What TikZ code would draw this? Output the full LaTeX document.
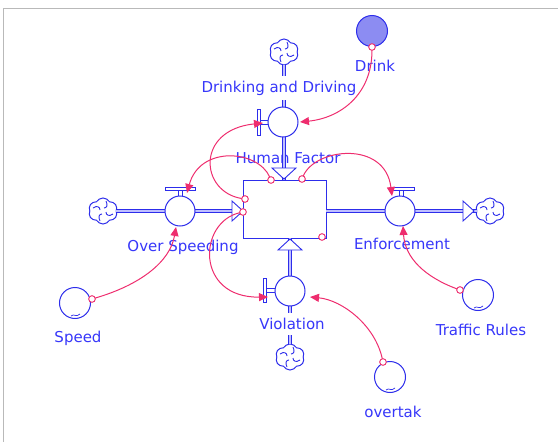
\documentclass[tikz,border=0pt]{standalone}
\usepackage{fontspec}
\setmainfont{DejaVu Sans}
\usetikzlibrary{shapes.symbols,arrows.meta}
\definecolor{sblue}{RGB}{45,45,235}
\definecolor{tblue}{RGB}{55,55,250}
\definecolor{cred}{RGB}{238,45,110}
\definecolor{dfill}{RGB}{140,140,242}
\begin{document}
\begin{tikzpicture}[x=1pt,y=-1pt,
  every node/.style={inner sep=0pt, outer sep=0pt},
  lbl/.style={text=tblue, font=\fontsize{15}{17}\selectfont, fill=white, inner xsep=1pt, inner ysep=5pt},
  lblclear/.style={text=tblue, font=\fontsize{15}{17}\selectfont},
  valve/.style={circle, draw=sblue, fill=white, line width=1pt, minimum size=30pt},
  aux/.style={circle, draw=sblue, fill=white, line width=1pt, minimum size=31pt},
  stockbox/.style={rectangle, draw=sblue, fill=white, line width=1pt, minimum width=83pt, minimum height=58pt},
  cloudnode/.style={cloud, cloud puffs=6, cloud puff arc=120, aspect=1.15, draw=sblue, fill=white, line width=1pt, minimum width=29pt, minimum height=26pt},
  pipe/.style={draw=sblue, line width=0.9pt, double=blue!25, double distance=2.2pt},
  hollow/.style={draw=sblue, fill=white, line width=0.9pt, line join=miter},
  handle/.style={draw=sblue, fill=white, line width=0.9pt},
  port/.style={circle, draw=cred, fill=white, line width=0.8pt, minimum size=6.5pt},
  link/.style={draw=cred, line width=1pt, -{Triangle[length=9pt,width=8pt]}},
  curl/.style={draw=sblue, line width=0.9pt},
  cloudpic/.pic={
    \draw[curl] (-10,-3) .. controls (-6,-6) and (-3,-4) .. (-3,-1);
    \draw[curl] (3,-10) .. controls (5,-6) and (4,-3) .. (1,-3);
    \draw[curl] (10,3) .. controls (6,6) and (3,4) .. (3,1);
    \draw[curl] (-3,10) .. controls (-5,6) and (-4,3) .. (-1,3);
  },
  squig/.pic={
    \draw[curl, line width=0.7pt] (-4,13) .. controls (-1,10) and (1,15) .. (5,11);
  }
]
\useasboundingbox (0,0) rectangle (558,442);
% frame
\draw[gray!55, line width=0.8pt] (3.5,442) -- (3.5,8) -- (558,8);

% Human Factor label (pipe passes over it)
\node[lblclear] (lhf) at (288,158) {Human Factor};

% clouds
\node[cloudnode] (cl) at (103,211) {};
\node[cloudnode] (cr) at (490,211) {};
\node[cloudnode] (ct) at (284,52) {};
\node[cloudnode] (cb) at (290,357) {};
\pic at (cl) {cloudpic};
\pic at (cr) {cloudpic};
\pic at (ct) {cloudpic};
\pic at (cb) {cloudpic};

% stock
\node[stockbox] (hf) at (284.5,209) {};

% pipes
\draw[pipe] (cl.east) -- (hf.west |- cl.east);
\draw[pipe] (hf.east |- cr.west) -- (cr.west);
\draw[pipe] (ct.south) -- (ct.south |- hf.north);
\draw[pipe] (cb.north) -- (cb.north |- hf.south);

% hollow arrow heads
\draw[hollow] (272,168) -- (296,168) -- (284,179) -- cycle;
\draw[hollow] (278,250) -- (302,250) -- (290,239) -- cycle;
\draw[hollow] (232,201) -- (232,221) -- (243,211) -- cycle;
\draw[hollow] (463,201) -- (463,221) -- (474,211) -- cycle;

% valve handles
\draw[handle] (178,190) rectangle (182,196);
\draw[handle] (165,187.5) rectangle (195,190.5);
\draw[handle] (399,190) rectangle (403,196);
\draw[handle] (392,187) rectangle (414,190);
\draw[handle] (260,120) rectangle (268,124);
\draw[handle] (257,109) rectangle (260,135);
\draw[handle] (266,288) rectangle (275,292);
\draw[handle] (263,278) rectangle (266,302);

% valves
\node[valve] (dd) at (283,122) {};
\node[valve] (os) at (180,211) {};
\node[valve] (en) at (400,211) {};
\node[valve] (vi) at (290,291) {};

% auxiliaries
\node[aux, fill=dfill] (drink) at (372,31) {};
\node[aux] (speed) at (75,303) {};
\node[aux] (traffic) at (478,295) {};
\node[aux] (overtak) at (390,377) {};
\pic at (speed) {squig};
\pic at (traffic) {squig};
\pic at (overtak) {squig};

% labels
\node[lbl] (ldrink) at (375,66) {Drink};
\node[lbl] (ldd) at (279,88) {Drinking and Driving};
\node[lbl] (los) at (183,247) {Over Speeding};
\node[lbl] (len) at (402,244) {Enforcement};
\node[lbl] (lvi) at (292,324) {Violation};
\node[lbl] (lspeed) at (78,338) {Speed};
\node[lbl] (ltr) at (481,330) {Traffic Rules};
\node[lbl] (lov) at (393,412) {overtak};

% connector ports
\node[port] (p1) at (271,180) {};
\node[port] (p2) at (302,179) {};
\node[port] (p3) at (245,199) {};
\node[port] (p4) at (243,212) {};
\node[port] (p5) at (322,237) {};
\node[port] (pdrink) at (372,47) {};
\node[port] (pspeed) at (92,299) {};
\node[port] (ptraffic) at (460,290) {};
\node[port] (povertak) at (383,362) {};

% connector ends
\coordinate (osT) at (187,193);
\coordinate (enT) at (392,196);
\coordinate (ddL) at (263,123);
\coordinate (ddR) at (300,122);
\coordinate (viL) at (268,297);
\coordinate (viR) at (310,297);
\coordinate (osB) at (176,227);
\coordinate (enB) at (403,226);

% connectors
\draw[link] (p1) .. controls (258,150) and (200,145) .. (osT);
\draw[link] (p3) .. controls (200,192) and (195,130) .. (ddL);
\draw[link] (p4) .. controls (198,222) and (195,298) .. (viL);
\draw[link] (p2) .. controls (315,148) and (385,140) .. (enT);
\draw[link] (pdrink) .. controls (372,95) and (340,118) .. (ddR);
\draw[link] (pspeed) .. controls (140,285) and (170,262) .. (osB);
\draw[link] (ptraffic) .. controls (425,277) and (405,258) .. (enB);
\draw[link] (povertak) .. controls (375,325) and (342,300) .. (viR);

% redraw ports on top
\foreach \p in {p1,p2,p3,p4,p5,pdrink,pspeed,ptraffic,povertak}
  \node[port] at (\p) {};
\end{tikzpicture}
\end{document}
